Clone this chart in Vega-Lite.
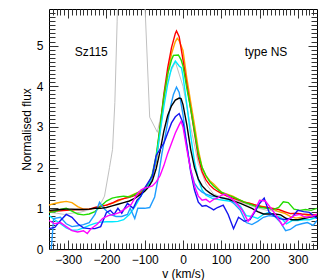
{
"$schema":"https://vega.github.io/schema/vega-lite/v6.json",
"width":268,"height":240,"autosize":"none",
"padding":{"left":49,"top":9,"right":10,"bottom":31},
"config":{"font":"Liberation Sans","view":{"stroke":"black","strokeWidth":1},"axis":{"grid":false,"domain":false,"tickColor":"#333333","tickWidth":1,"labelColor":"black","labelFontSize":12,"labelOverlap":false,"labelFlush":false,"labelBound":false,"titleColor":"black","titleFontSize":12,"titleFontWeight":"normal"}},
"datasets":{
"gray":[
{"v":-350,"f":0.9},{"v":-330,"f":0.88},{"v":-310,"f":0.85},{"v":-290,"f":0.88},{"v":-270,"f":0.9},{"v":-250,"f":0.95},{"v":-235,"f":1.0},{"v":-222,"f":1.05},{"v":-213,"f":1.15},{"v":-205,"f":1.3},{"v":-192,"f":2.0},{"v":-184,"f":2.45},{"v":-178,"f":3.6},{"v":-172,"f":5.6},{"v":-166,"f":9},{"v":-140,"f":10},{"v":-115,"f":10},{"v":-103,"f":6.8},{"v":-87,"f":3.24},{"v":-67,"f":2.87},{"v":-55,"f":3.4},{"v":-40,"f":4.2},{"v":-20,"f":4.6},{"v":0,"f":4.0},{"v":20,"f":3.0},{"v":40,"f":2.1},{"v":60,"f":1.6},{"v":80,"f":1.35},{"v":100,"f":1.28},{"v":130,"f":1.22},{"v":160,"f":1.12},{"v":190,"f":1.02},{"v":220,"f":0.95},{"v":250,"f":0.92},{"v":280,"f":0.88},{"v":310,"f":0.85},{"v":350,"f":0.83}
],
"lines":[
{"s":"o","v":-350,"f":1.08},{"s":"o","v":-335,"f":1.12},{"s":"o","v":-320,"f":1.15},{"s":"o","v":-305,"f":1.17},{"s":"o","v":-290,"f":1.14},{"s":"o","v":-275,"f":1.04},{"s":"o","v":-260,"f":0.98},{"s":"o","v":-245,"f":0.98},{"s":"o","v":-230,"f":1.0},{"s":"o","v":-215,"f":1.04},{"s":"o","v":-200,"f":1.08},{"s":"o","v":-185,"f":1.12},{"s":"o","v":-170,"f":1.18},{"s":"o","v":-155,"f":1.24},{"s":"o","v":-140,"f":1.3},{"s":"o","v":-125,"f":1.36},{"s":"o","v":-110,"f":1.42},{"s":"o","v":-100,"f":1.48},{"s":"o","v":-90,"f":1.58},{"s":"o","v":-80,"f":1.8},{"s":"o","v":-70,"f":2.15},{"s":"o","v":-60,"f":2.9},{"s":"o","v":-50,"f":3.65},{"s":"o","v":-40,"f":4.3},{"s":"o","v":-30,"f":4.8},{"s":"o","v":-20,"f":5.1},{"s":"o","v":-15,"f":5.18},{"s":"o","v":-10,"f":5.12},{"s":"o","v":0,"f":4.88},{"s":"o","v":10,"f":4.2},{"s":"o","v":20,"f":3.62},{"s":"o","v":30,"f":3.05},{"s":"o","v":40,"f":2.45},{"s":"o","v":50,"f":2.0},{"s":"o","v":60,"f":1.8},{"s":"o","v":70,"f":1.68},{"s":"o","v":80,"f":1.6},{"s":"o","v":90,"f":1.5},{"s":"o","v":100,"f":1.4},{"s":"o","v":115,"f":1.35},{"s":"o","v":130,"f":1.3},{"s":"o","v":145,"f":1.22},{"s":"o","v":160,"f":1.16},{"s":"o","v":175,"f":1.12},{"s":"o","v":190,"f":1.08},{"s":"o","v":205,"f":1.05},{"s":"o","v":220,"f":1.02},{"s":"o","v":235,"f":0.98},{"s":"o","v":250,"f":0.92},{"s":"o","v":265,"f":0.88},{"s":"o","v":280,"f":0.8},{"s":"o","v":295,"f":0.76},{"s":"o","v":310,"f":0.78},{"s":"o","v":325,"f":0.82},{"s":"o","v":340,"f":0.85},{"s":"o","v":350,"f":0.8},
{"s":"r","v":-350,"f":0.92},{"s":"r","v":-335,"f":0.93},{"s":"r","v":-320,"f":0.94},{"s":"r","v":-305,"f":0.95},{"s":"r","v":-290,"f":0.96},{"s":"r","v":-275,"f":0.97},{"s":"r","v":-260,"f":0.97},{"s":"r","v":-245,"f":0.98},{"s":"r","v":-230,"f":1.02},{"s":"r","v":-215,"f":1.05},{"s":"r","v":-200,"f":1.08},{"s":"r","v":-185,"f":1.13},{"s":"r","v":-170,"f":1.2},{"s":"r","v":-155,"f":1.24},{"s":"r","v":-140,"f":1.27},{"s":"r","v":-125,"f":1.32},{"s":"r","v":-110,"f":1.38},{"s":"r","v":-100,"f":1.45},{"s":"r","v":-90,"f":1.55},{"s":"r","v":-80,"f":1.8},{"s":"r","v":-70,"f":2.2},{"s":"r","v":-60,"f":3.0},{"s":"r","v":-50,"f":3.8},{"s":"r","v":-40,"f":4.45},{"s":"r","v":-30,"f":4.95},{"s":"r","v":-20,"f":5.3},{"s":"r","v":-17,"f":5.36},{"s":"r","v":-10,"f":5.22},{"s":"r","v":0,"f":4.65},{"s":"r","v":10,"f":4.05},{"s":"r","v":20,"f":3.45},{"s":"r","v":30,"f":2.85},{"s":"r","v":40,"f":2.25},{"s":"r","v":50,"f":1.9},{"s":"r","v":60,"f":1.7},{"s":"r","v":70,"f":1.57},{"s":"r","v":80,"f":1.48},{"s":"r","v":90,"f":1.42},{"s":"r","v":100,"f":1.37},{"s":"r","v":115,"f":1.3},{"s":"r","v":130,"f":1.25},{"s":"r","v":145,"f":1.2},{"s":"r","v":160,"f":1.15},{"s":"r","v":175,"f":1.12},{"s":"r","v":190,"f":1.08},{"s":"r","v":205,"f":1.04},{"s":"r","v":220,"f":1.02},{"s":"r","v":235,"f":1.0},{"s":"r","v":250,"f":0.97},{"s":"r","v":265,"f":0.92},{"s":"r","v":280,"f":0.87},{"s":"r","v":295,"f":0.88},{"s":"r","v":310,"f":0.86},{"s":"r","v":325,"f":0.85},{"s":"r","v":340,"f":0.84},{"s":"r","v":350,"f":0.85},
{"s":"g","v":-350,"f":0.9},{"s":"g","v":-335,"f":0.92},{"s":"g","v":-320,"f":0.97},{"s":"g","v":-305,"f":1.0},{"s":"g","v":-290,"f":0.93},{"s":"g","v":-275,"f":0.86},{"s":"g","v":-260,"f":0.84},{"s":"g","v":-245,"f":0.86},{"s":"g","v":-230,"f":0.92},{"s":"g","v":-215,"f":1.05},{"s":"g","v":-200,"f":1.18},{"s":"g","v":-185,"f":1.25},{"s":"g","v":-170,"f":1.28},{"s":"g","v":-155,"f":1.3},{"s":"g","v":-140,"f":1.28},{"s":"g","v":-125,"f":1.35},{"s":"g","v":-110,"f":1.42},{"s":"g","v":-100,"f":1.5},{"s":"g","v":-90,"f":1.6},{"s":"g","v":-80,"f":1.85},{"s":"g","v":-70,"f":2.3},{"s":"g","v":-60,"f":3.0},{"s":"g","v":-50,"f":3.75},{"s":"g","v":-40,"f":4.3},{"s":"g","v":-30,"f":4.65},{"s":"g","v":-25,"f":4.76},{"s":"g","v":-12,"f":4.77},{"s":"g","v":-5,"f":4.65},{"s":"g","v":0,"f":4.5},{"s":"g","v":10,"f":3.95},{"s":"g","v":20,"f":3.45},{"s":"g","v":30,"f":2.9},{"s":"g","v":40,"f":2.35},{"s":"g","v":50,"f":2.0},{"s":"g","v":60,"f":1.8},{"s":"g","v":70,"f":1.65},{"s":"g","v":80,"f":1.55},{"s":"g","v":90,"f":1.47},{"s":"g","v":100,"f":1.4},{"s":"g","v":115,"f":1.33},{"s":"g","v":130,"f":1.28},{"s":"g","v":145,"f":1.22},{"s":"g","v":160,"f":1.15},{"s":"g","v":175,"f":1.1},{"s":"g","v":190,"f":1.05},{"s":"g","v":205,"f":1.02},{"s":"g","v":220,"f":1.0},{"s":"g","v":235,"f":0.97},{"s":"g","v":250,"f":1.02},{"s":"g","v":262,"f":1.16},{"s":"g","v":275,"f":1.14},{"s":"g","v":290,"f":0.98},{"s":"g","v":305,"f":0.95},{"s":"g","v":320,"f":0.97},{"s":"g","v":335,"f":0.95},{"s":"g","v":350,"f":1.0},
{"s":"c","v":-350,"f":0.82},{"s":"c","v":-335,"f":0.72},{"s":"c","v":-320,"f":0.62},{"s":"c","v":-305,"f":0.52},{"s":"c","v":-290,"f":0.46},{"s":"c","v":-275,"f":0.47},{"s":"c","v":-260,"f":0.52},{"s":"c","v":-245,"f":0.58},{"s":"c","v":-230,"f":0.63},{"s":"c","v":-215,"f":0.66},{"s":"c","v":-200,"f":0.67},{"s":"c","v":-185,"f":0.67},{"s":"c","v":-170,"f":0.68},{"s":"c","v":-155,"f":0.72},{"s":"c","v":-140,"f":0.85},{"s":"c","v":-125,"f":1.05},{"s":"c","v":-110,"f":1.3},{"s":"c","v":-100,"f":1.45},{"s":"c","v":-90,"f":1.55},{"s":"c","v":-80,"f":1.8},{"s":"c","v":-70,"f":2.2},{"s":"c","v":-60,"f":2.85},{"s":"c","v":-50,"f":3.5},{"s":"c","v":-40,"f":4.05},{"s":"c","v":-30,"f":4.45},{"s":"c","v":-20,"f":4.62},{"s":"c","v":-10,"f":4.5},{"s":"c","v":-4,"f":4.45},{"s":"c","v":0,"f":4.25},{"s":"c","v":10,"f":3.55},{"s":"c","v":20,"f":2.8},{"s":"c","v":30,"f":2.15},{"s":"c","v":40,"f":1.7},{"s":"c","v":50,"f":1.45},{"s":"c","v":60,"f":1.32},{"s":"c","v":75,"f":1.25},{"s":"c","v":90,"f":1.22},{"s":"c","v":105,"f":1.2},{"s":"c","v":120,"f":1.18},{"s":"c","v":135,"f":1.15},{"s":"c","v":150,"f":1.05},{"s":"c","v":165,"f":0.82},{"s":"c","v":180,"f":0.8},{"s":"c","v":195,"f":0.75},{"s":"c","v":210,"f":0.85},{"s":"c","v":225,"f":0.9},{"s":"c","v":240,"f":0.82},{"s":"c","v":255,"f":0.78},{"s":"c","v":270,"f":0.62},{"s":"c","v":285,"f":0.7},{"s":"c","v":300,"f":0.7},{"s":"c","v":315,"f":0.72},{"s":"c","v":330,"f":0.72},{"s":"c","v":350,"f":0.78},
{"s":"d","v":-344,"f":0.0},{"s":"d","v":-338,"f":0.75},{"s":"d","v":-320,"f":0.78},{"s":"d","v":-305,"f":0.62},{"s":"d","v":-290,"f":0.55},{"s":"d","v":-275,"f":0.57},{"s":"d","v":-260,"f":0.6},{"s":"d","v":-245,"f":0.65},{"s":"d","v":-230,"f":0.85},{"s":"d","v":-218,"f":1.15},{"s":"d","v":-205,"f":0.98},{"s":"d","v":-190,"f":0.85},{"s":"d","v":-175,"f":0.8},{"s":"d","v":-160,"f":0.8},{"s":"d","v":-145,"f":0.85},{"s":"d","v":-138,"f":1.0},{"s":"d","v":-126,"f":0.75},{"s":"d","v":-118,"f":1.0},{"s":"d","v":-100,"f":1.0},{"s":"d","v":-87,"f":1.02},{"s":"d","v":-74,"f":1.28},{"s":"d","v":-65,"f":1.73},{"s":"d","v":-55,"f":2.35},{"s":"d","v":-45,"f":2.85},{"s":"d","v":-35,"f":3.4},{"s":"d","v":-25,"f":3.8},{"s":"d","v":-17,"f":3.98},{"s":"d","v":-10,"f":3.85},{"s":"d","v":0,"f":3.3},{"s":"d","v":10,"f":2.55},{"s":"d","v":20,"f":1.95},{"s":"d","v":30,"f":1.62},{"s":"d","v":40,"f":1.48},{"s":"d","v":50,"f":1.4},{"s":"d","v":60,"f":1.35},{"s":"d","v":75,"f":1.3},{"s":"d","v":90,"f":1.28},{"s":"d","v":105,"f":1.25},{"s":"d","v":120,"f":1.22},{"s":"d","v":135,"f":1.1},{"s":"d","v":150,"f":0.95},{"s":"d","v":165,"f":0.65},{"s":"d","v":180,"f":0.6},{"s":"d","v":195,"f":0.68},{"s":"d","v":210,"f":0.78},{"s":"d","v":225,"f":0.82},{"s":"d","v":240,"f":0.8},{"s":"d","v":255,"f":0.65},{"s":"d","v":268,"f":0.45},{"s":"d","v":280,"f":0.48},{"s":"d","v":295,"f":0.58},{"s":"d","v":310,"f":0.62},{"s":"d","v":325,"f":0.65},{"s":"d","v":340,"f":0.58},{"s":"d","v":350,"f":0.7},
{"s":"k","v":-350,"f":0.95},{"s":"k","v":-335,"f":0.96},{"s":"k","v":-320,"f":0.97},{"s":"k","v":-305,"f":0.98},{"s":"k","v":-290,"f":0.98},{"s":"k","v":-275,"f":0.97},{"s":"k","v":-260,"f":0.97},{"s":"k","v":-245,"f":0.98},{"s":"k","v":-230,"f":1.0},{"s":"k","v":-215,"f":1.0},{"s":"k","v":-200,"f":1.02},{"s":"k","v":-185,"f":1.06},{"s":"k","v":-170,"f":1.1},{"s":"k","v":-155,"f":1.14},{"s":"k","v":-140,"f":1.18},{"s":"k","v":-125,"f":1.25},{"s":"k","v":-110,"f":1.35},{"s":"k","v":-100,"f":1.42},{"s":"k","v":-90,"f":1.52},{"s":"k","v":-80,"f":1.68},{"s":"k","v":-70,"f":1.98},{"s":"k","v":-60,"f":2.4},{"s":"k","v":-50,"f":2.9},{"s":"k","v":-40,"f":3.28},{"s":"k","v":-30,"f":3.52},{"s":"k","v":-20,"f":3.66},{"s":"k","v":-10,"f":3.71},{"s":"k","v":-5,"f":3.7},{"s":"k","v":0,"f":3.55},{"s":"k","v":10,"f":3.05},{"s":"k","v":20,"f":2.45},{"s":"k","v":30,"f":2.0},{"s":"k","v":40,"f":1.72},{"s":"k","v":50,"f":1.55},{"s":"k","v":60,"f":1.45},{"s":"k","v":70,"f":1.38},{"s":"k","v":80,"f":1.32},{"s":"k","v":90,"f":1.28},{"s":"k","v":105,"f":1.25},{"s":"k","v":120,"f":1.22},{"s":"k","v":135,"f":1.17},{"s":"k","v":150,"f":1.12},{"s":"k","v":165,"f":1.06},{"s":"k","v":180,"f":1.0},{"s":"k","v":195,"f":0.92},{"s":"k","v":210,"f":0.86},{"s":"k","v":225,"f":0.86},{"s":"k","v":240,"f":0.86},{"s":"k","v":255,"f":0.84},{"s":"k","v":270,"f":0.75},{"s":"k","v":285,"f":0.72},{"s":"k","v":300,"f":0.72},{"s":"k","v":315,"f":0.75},{"s":"k","v":330,"f":0.78},{"s":"k","v":350,"f":0.81},
{"s":"b","v":-350,"f":0.5},{"s":"b","v":-335,"f":0.53},{"s":"b","v":-320,"f":0.7},{"s":"b","v":-305,"f":0.85},{"s":"b","v":-290,"f":0.78},{"s":"b","v":-275,"f":0.62},{"s":"b","v":-260,"f":0.52},{"s":"b","v":-245,"f":0.5},{"s":"b","v":-230,"f":0.5},{"s":"b","v":-215,"f":0.55},{"s":"b","v":-200,"f":0.9},{"s":"b","v":-190,"f":0.95},{"s":"b","v":-180,"f":0.85},{"s":"b","v":-170,"f":1.0},{"s":"b","v":-160,"f":0.88},{"s":"b","v":-145,"f":1.12},{"s":"b","v":-130,"f":1.0},{"s":"b","v":-120,"f":1.2},{"s":"b","v":-110,"f":1.3},{"s":"b","v":-100,"f":1.5},{"s":"b","v":-90,"f":1.65},{"s":"b","v":-80,"f":1.8},{"s":"b","v":-70,"f":2.3},{"s":"b","v":-60,"f":2.45},{"s":"b","v":-50,"f":2.6},{"s":"b","v":-40,"f":2.85},{"s":"b","v":-30,"f":3.1},{"s":"b","v":-20,"f":3.25},{"s":"b","v":-10,"f":3.33},{"s":"b","v":0,"f":3.1},{"s":"b","v":10,"f":2.55},{"s":"b","v":20,"f":1.9},{"s":"b","v":30,"f":1.45},{"s":"b","v":40,"f":1.15},{"s":"b","v":50,"f":1.05},{"s":"b","v":60,"f":1.07},{"s":"b","v":70,"f":1.02},{"s":"b","v":80,"f":0.96},{"s":"b","v":90,"f":1.02},{"s":"b","v":105,"f":1.08},{"s":"b","v":118,"f":0.85},{"s":"b","v":132,"f":0.5},{"s":"b","v":145,"f":0.78},{"s":"b","v":160,"f":0.68},{"s":"b","v":175,"f":0.72},{"s":"b","v":190,"f":0.95},{"s":"b","v":200,"f":1.12},{"s":"b","v":212,"f":1.25},{"s":"b","v":225,"f":0.9},{"s":"b","v":240,"f":0.8},{"s":"b","v":255,"f":0.74},{"s":"b","v":270,"f":0.72},{"s":"b","v":285,"f":0.78},{"s":"b","v":300,"f":0.95},{"s":"b","v":315,"f":0.92},{"s":"b","v":330,"f":0.9},{"s":"b","v":350,"f":0.75},
{"s":"m","v":-350,"f":0.7},{"s":"m","v":-335,"f":0.62},{"s":"m","v":-320,"f":0.65},{"s":"m","v":-305,"f":0.55},{"s":"m","v":-290,"f":0.45},{"s":"m","v":-275,"f":0.42},{"s":"m","v":-260,"f":0.45},{"s":"m","v":-250,"f":0.38},{"s":"m","v":-240,"f":0.5},{"s":"m","v":-225,"f":0.6},{"s":"m","v":-210,"f":0.75},{"s":"m","v":-195,"f":0.82},{"s":"m","v":-180,"f":0.85},{"s":"m","v":-165,"f":0.9},{"s":"m","v":-150,"f":1.0},{"s":"m","v":-135,"f":1.1},{"s":"m","v":-120,"f":1.35},{"s":"m","v":-110,"f":1.45},{"s":"m","v":-100,"f":1.5},{"s":"m","v":-90,"f":1.52},{"s":"m","v":-80,"f":1.55},{"s":"m","v":-70,"f":1.65},{"s":"m","v":-60,"f":1.8},{"s":"m","v":-50,"f":2.05},{"s":"m","v":-40,"f":2.35},{"s":"m","v":-30,"f":2.6},{"s":"m","v":-20,"f":2.85},{"s":"m","v":-10,"f":3.05},{"s":"m","v":-5,"f":3.14},{"s":"m","v":0,"f":3.0},{"s":"m","v":10,"f":2.45},{"s":"m","v":20,"f":1.95},{"s":"m","v":30,"f":1.55},{"s":"m","v":40,"f":1.3},{"s":"m","v":50,"f":1.2},{"s":"m","v":60,"f":1.22},{"s":"m","v":70,"f":1.15},{"s":"m","v":80,"f":1.22},{"s":"m","v":90,"f":1.25},{"s":"m","v":100,"f":1.32},{"s":"m","v":110,"f":1.35},{"s":"m","v":125,"f":1.25},{"s":"m","v":140,"f":1.12},{"s":"m","v":155,"f":0.95},{"s":"m","v":170,"f":0.68},{"s":"m","v":185,"f":0.9},{"s":"m","v":200,"f":1.2},{"s":"m","v":215,"f":1.18},{"s":"m","v":230,"f":1.0},{"s":"m","v":245,"f":0.8},{"s":"m","v":260,"f":0.58},{"s":"m","v":275,"f":0.72},{"s":"m","v":290,"f":0.82},{"s":"m","v":305,"f":0.85},{"s":"m","v":320,"f":0.78},{"s":"m","v":335,"f":0.8},{"s":"m","v":350,"f":0.85}
],
"labels":[{"v":-283,"f":4.84,"t":"Sz115"},{"v":161,"f":4.84,"t":"type NS"}]
},
"resolve":{"scale":{"x":"independent","y":"independent"}},
"layer":[
{"mark":{"type":"rule","color":"#b4b4b4","strokeWidth":2},
 "encoding":{"x":{"datum":0,"type":"quantitative","scale":{"domain":[-350,350],"nice":false,"zero":false},
  "axis":{"orient":"bottom","values":[-340,-330,-320,-310,-290,-280,-270,-260,-250,-240,-230,-220,-210,-190,-180,-170,-160,-150,-140,-130,-120,-110,-90,-80,-70,-60,-50,-40,-30,-20,-10,10,20,30,40,50,60,70,80,90,110,120,130,140,150,160,170,180,190,210,220,230,240,250,260,270,280,290,310,320,330,340],
   "labels":false,"title":null,"tickSize":-6}}}},
{"mark":{"type":"rule","color":"black","strokeWidth":0.8,"strokeDash":[6,4]},
 "encoding":{"y":{"datum":1,"type":"quantitative","scale":{"domain":[0,5.9],"nice":false,"zero":false},
  "axis":{"orient":"left","values":[0.1,0.2,0.3,0.4,0.5,0.6,0.7,0.8,0.9,1.1,1.2,1.3,1.4,1.5,1.6,1.7,1.8,1.9,2.1,2.2,2.3,2.4,2.5,2.6,2.7,2.8,2.9,3.1,3.2,3.3,3.4,3.5,3.6,3.7,3.8,3.9,4.1,4.2,4.3,4.4,4.5,4.6,4.7,4.8,4.9,5.1,5.2,5.3,5.4,5.5,5.6,5.7,5.8],
   "labels":false,"title":null,"tickSize":-6}}}},
{"data":{"name":"gray"},
 "mark":{"type":"line","color":"#c0c0c0","strokeWidth":1,"clip":true},
 "encoding":{"x":{"field":"v","type":"quantitative","scale":{"domain":[-350,350],"nice":false,"zero":false},
   "axis":{"orient":"top","values":[-340,-330,-320,-310,-290,-280,-270,-260,-250,-240,-230,-220,-210,-190,-180,-170,-160,-150,-140,-130,-120,-110,-90,-80,-70,-60,-50,-40,-30,-20,-10,10,20,30,40,50,60,70,80,90,110,120,130,140,150,160,170,180,190,210,220,230,240,250,260,270,280,290,310,320,330,340],
   "labels":false,"title":null,"tickSize":-6}},
  "y":{"field":"f","type":"quantitative","scale":{"domain":[0,5.9],"nice":false,"zero":false},
   "axis":{"orient":"right","values":[0.1,0.2,0.3,0.4,0.5,0.6,0.7,0.8,0.9,1.1,1.2,1.3,1.4,1.5,1.6,1.7,1.8,1.9,2.1,2.2,2.3,2.4,2.5,2.6,2.7,2.8,2.9,3.1,3.2,3.3,3.4,3.5,3.6,3.7,3.8,3.9,4.1,4.2,4.3,4.4,4.5,4.6,4.7,4.8,4.9,5.1,5.2,5.3,5.4,5.5,5.6,5.7,5.8],
   "labels":false,"title":null,"tickSize":-6}}}},
{"data":{"name":"lines"},
 "mark":{"type":"line","strokeWidth":1.4,"clip":true},
 "encoding":{
  "x":{"field":"v","type":"quantitative","scale":{"domain":[-350,350],"nice":false,"zero":false},
   "axis":{"orient":"bottom","values":[-300,-200,-100,0,100,200,300],"tickSize":-9,"labelPadding":14,
    "title":"v (km/s)","titleBaseline":"alphabetic","titleY":28}},
  "y":{"field":"f","type":"quantitative","scale":{"domain":[0,5.9],"nice":false,"zero":false},
   "axis":{"orient":"left","values":[0,1,2,3,4,5],"format":"d","tickSize":-9,"labelPadding":15,
    "title":"Normalised flux","titleBaseline":"middle","titleX":-23}},
  "color":{"field":"s","type":"nominal","legend":null,
   "scale":{"domain":["o","r","g","c","d","k","b","m"],"range":["#ffa500","#ff0000","#22dd00","#00e8ff","#1e9cff","#000000","#1414f0","#ff00ff"]}}
 }},
{"data":{"name":"labels"},
 "mark":{"type":"text","align":"left","baseline":"middle","fontSize":12,"color":"black"},
 "encoding":{
  "x":{"field":"v","type":"quantitative","scale":{"domain":[-350,350],"nice":false,"zero":false},
   "axis":{"orient":"top","values":[-300,-200,-100,0,100,200,300],"labels":false,"title":null,"tickSize":-9}},
  "y":{"field":"f","type":"quantitative","scale":{"domain":[0,5.9],"nice":false,"zero":false},
   "axis":{"orient":"right","values":[0,1,2,3,4,5],"labels":false,"title":null,"tickSize":-9}},
  "text":{"field":"t","type":"nominal"}
 }}
]
}
